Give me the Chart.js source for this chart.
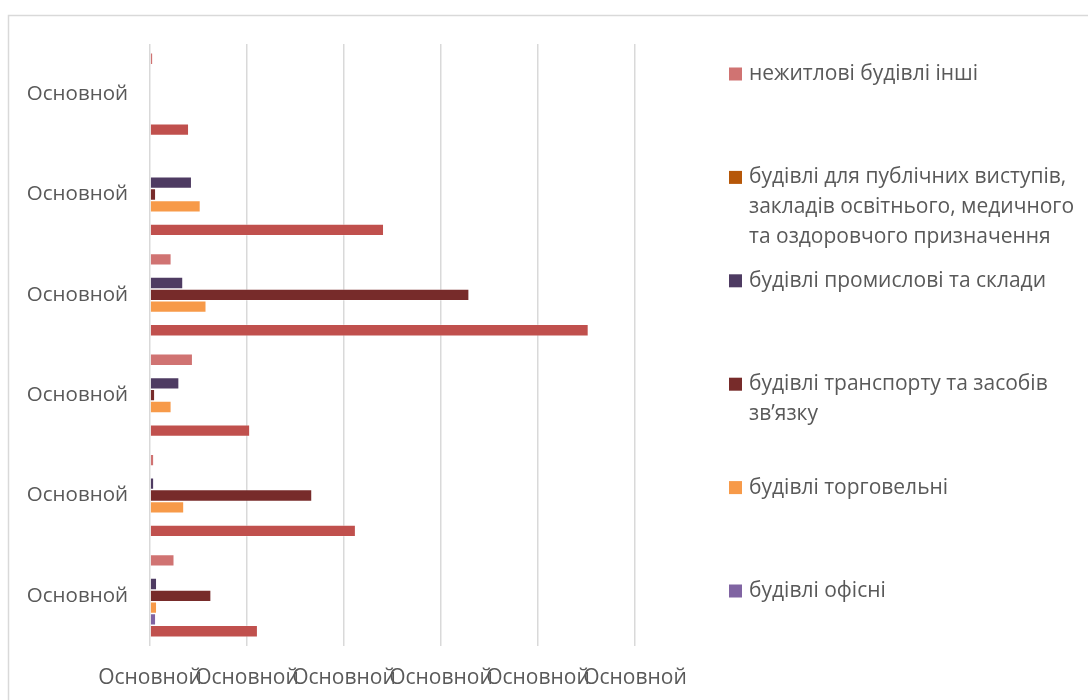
<!DOCTYPE html>
<html lang="uk">
<head>
<meta charset="utf-8">
<title>Будівлі</title>
<script src="https://cdn.jsdelivr.net/npm/chart.js@4/dist/chart.umd.min.js"></script>
<style>
  html, body { margin: 0; padding: 0; background: #fff; }
</style>
</head>
<body>
<canvas id="chart" width="1088" height="700"></canvas>
<script>
// Categories and axis labels
const categories = ['Основной', 'Основной', 'Основной', 'Основной', 'Основной', 'Основной'];
const xTickLabels = ['Основной', 'Основной', 'Основной', 'Основной', 'Основной', 'Основной'];

// Series values, one per category (top to bottom)
const inshi      = [0.03, 0.00, 0.22, 0.44, 0.04, 0.25];
const publichni  = [0.00, 0.00, 0.00, 0.00, 0.00, 0.00];
const promyslovi = [0.00, 0.43, 0.34, 0.30, 0.04, 0.07];
const transport  = [0.00, 0.06, 3.29, 0.05, 1.67, 0.63];
const torgovelni = [0.00, 0.52, 0.58, 0.22, 0.35, 0.07];
const ofisni     = [0.00, 0.00, 0.00, 0.00, 0.00, 0.06];
const series7    = [0.40, 2.41, 4.52, 1.03, 2.12, 1.11];

// Legend text, line by line (last series has no legend entry)
const seriesNames = [
  ['нежитлові будівлі інші'],
  ['будівлі для публічних виступів,', 'закладів освітнього, медичного', 'та оздоровчого призначення'],
  ['будівлі промислові та склади'],
  ['будівлі транспорту та засобів', 'зв’язку'],
  ['будівлі торговельні'],
  ['будівлі офісні'],
  []
];
const seriesValues = [inshi, publichni, promyslovi, transport, torgovelni, ofisni, series7];
const colors = ['#D07372', '#B65708', '#4E3B62', '#772B2A', '#F79A49', '#8064A2', '#C0504D'];

const FONT = '"Open Sans", "Noto Sans", sans-serif';
const TEXT = '#595959';

// light frame around the whole chart
const framePlugin = {
  id: 'frame',
  beforeDraw(chart) {
    const ctx = chart.ctx;
    ctx.save();
    ctx.fillStyle = '#fff';
    ctx.fillRect(0, 0, chart.width, chart.height);
    ctx.strokeStyle = '#D9D9D9';
    ctx.lineWidth = 1.5;
    ctx.strokeRect(8.5, 15.5, chart.width + 20, chart.height + 20);
    ctx.restore();
  }
};

// legend on the right, entries spread down the height
const sideLegend = {
  id: 'sideLegend',
  afterDraw(chart) {
    const ctx = chart.ctx;
    ctx.save();
    ctx.font = '21px ' + FONT;
    ctx.textBaseline = 'middle';
    seriesNames.forEach((lines, i) => {
      if (!lines.length) return;
      const y0 = 74 + i * 103.4;
      ctx.fillStyle = colors[i];
      ctx.fillRect(729, y0 - 6.5, 13, 13);
      ctx.fillStyle = TEXT;
      lines.forEach((t, k) => ctx.fillText(t, 749, y0 + k * 30));
    });
    ctx.restore();
  }
};

new Chart(document.getElementById('chart').getContext('2d'), {
  type: 'bar',
  data: {
    labels: categories,
    datasets: seriesValues.map((vals, i) => ({
      label: seriesNames[i].join(' '),
      data: vals,
      backgroundColor: colors[i],
      borderColor: 'rgba(255,255,255,0.45)',
      borderWidth: 0.75,
      categoryPercentage: 0.824,
      barPercentage: 1.0
    }))
  },
  options: {
    indexAxis: 'y',
    responsive: false,
    animation: false,
    devicePixelRatio: 1,
    layout: { padding: { left: 8, top: 44, right: 453, bottom: 0 } },
    plugins: {
      legend: { display: false },
      tooltip: { enabled: false }
    },
    scales: {
      x: {
        min: 0,
        max: 5,
        ticks: {
          stepSize: 1,
          autoSkip: false,
          maxRotation: 0,
          minRotation: 0,
          padding: 19,
          color: TEXT,
          font: { family: FONT, size: 21 },
          callback: (v, i) => xTickLabels[i]
        },
        grid: { color: '#D9D9D9', lineWidth: 1.5, drawTicks: false },
        border: { display: false },
        afterFit: s => { s.height = 54; }
      },
      y: {
        ticks: {
          crossAlign: 'near',
          padding: 22,
          color: TEXT,
          font: { family: FONT, size: 20.5 }
        },
        grid: { display: false, drawTicks: false },
        border: { display: false },
        afterFit: s => { s.width = 142; }
      }
    }
  },
  plugins: [framePlugin, sideLegend]
});
</script>
</body>
</html>
